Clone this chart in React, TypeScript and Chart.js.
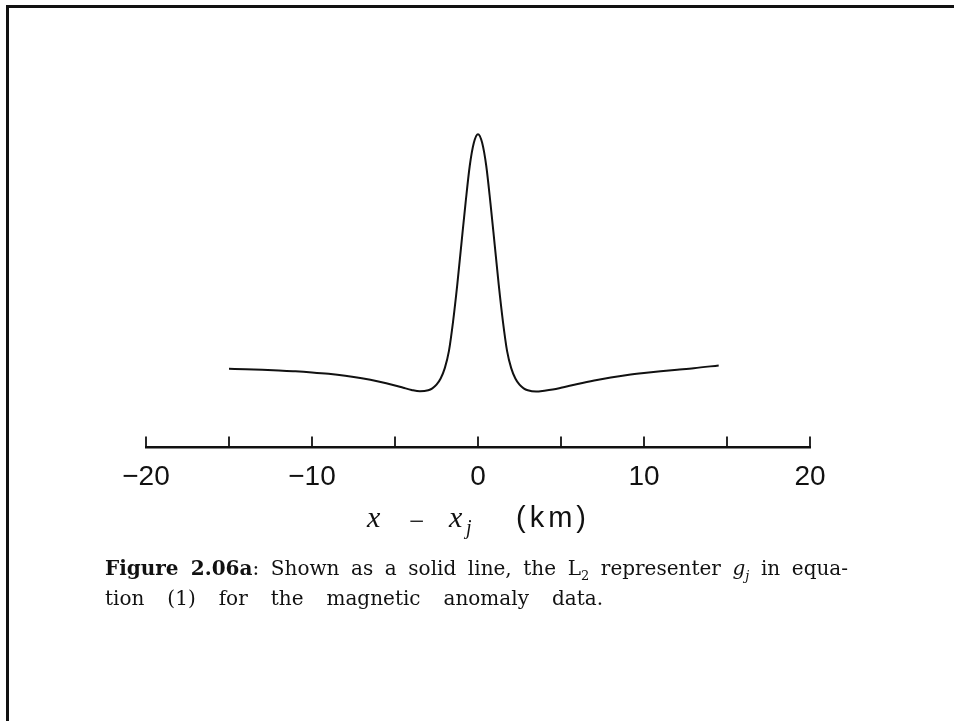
import React, { useEffect, useRef } from "react";
import { Chart, registerables } from "chart.js";

Chart.register(...registerables);

// Distance from the datum x - x_j (km)
const xKm: number[] = [
  -15, -14, -13, -12, -11, -10, -9, -8, -7, -6, -5, -4.5, -4, -3.5, -3, -2.75, -2.5, -2.25, -2, -1.75, -1.5, -1.25, -1, -0.75, -0.5, -0.25,
  0, 0.25, 0.5, 0.75, 1, 1.25, 1.5, 1.75, 2, 2.25, 2.5, 2.75, 3, 3.5, 4, 4.5, 5, 6, 7, 8, 9, 10, 11, 12, 13, 14.5,
];
// Representer g_j (arbitrary units, peak = 1)
const gValues: number[] = [
  0.0476, 0.0455, 0.0431, 0.0402, 0.037, 0.0325, 0.0268, 0.0191, 0.0089, -0.0041, -0.0203, -0.0297, -0.0386, -0.044, -0.04, -0.032, -0.017, 0.008, 0.05, 0.12, 0.24, 0.388, 0.555, 0.72, 0.87, 0.965,
  1.0, 0.965, 0.87, 0.72, 0.555, 0.388, 0.24, 0.12, 0.05, 0.008, -0.017, -0.032, -0.04, -0.045, -0.0415, -0.0366, -0.0297, -0.0142, 0.0, 0.0122, 0.0224, 0.0305, 0.0374, 0.0435, 0.0496, 0.061,
];
const xMin = -20;
const xMax = 20;
const tickStep = 5;
const labelStep = 10;

const upTicks = {
  id: "upTicks",
  afterDraw(chart: any) {
    const scale = chart.scales.x;
    const ctx = chart.ctx;
    const bottom = chart.chartArea.bottom;
    ctx.save();
    ctx.strokeStyle = "#111";
    ctx.lineWidth = 1.8;
    scale.ticks.forEach((t: any) => {
      const px = scale.getPixelForValue(t.value);
      ctx.beginPath();
      ctx.moveTo(px, bottom);
      ctx.lineTo(px, bottom - 11);
      ctx.stroke();
    });
    ctx.restore();
  },
};

export default function App() {
  const ref = useRef<HTMLCanvasElement>(null);
  useEffect(() => {
    if (!ref.current) return;
    const chart = new Chart(ref.current, {
      type: "line",
      data: {
        datasets: [
          {
            data: xKm.map((x, i) => ({ x, y: gValues[i] })),
            borderColor: "#111",
            borderWidth: 2,
            pointRadius: 0,
            cubicInterpolationMode: "monotone",
            fill: false,
          },
        ],
      },
      options: {
        responsive: false,
        animation: false,
        devicePixelRatio: 1,
        layout: { padding: { left: 146, right: 144, top: 85, bottom: 13 } },
        plugins: { legend: { display: false }, tooltip: { enabled: false } },
        scales: {
          x: {
            type: "linear",
            min: xMin,
            max: xMax,
            grid: { display: false, drawTicks: false },
            border: { display: true, color: "#111", width: 2.5 },
            ticks: {
              stepSize: tickStep,
              autoSkip: false,
              maxRotation: 0,
              padding: 13,
              color: "#111",
              font: { family: "'Liberation Sans', Arial, sans-serif", size: 28 },
              callback: (v: any) => {
                const n = Number(v);
                if (n % labelStep !== 0) return "";
                return n < 0 ? "\u2212" + Math.abs(n) : String(n);
              },
            },
          },
          y: { display: false, min: -0.272, max: 1.2 },
        },
      },
      plugins: [upTicks],
    } as any);
    return () => chart.destroy();
  }, []);

  const serif = "'Liberation Serif', 'Times New Roman', serif";
  const capFont = "'DejaVu Serif', serif";
  return (
    <div style={{ position: "absolute", left: 0, top: 0, width: 954, height: 721, background: "#fff", overflow: "hidden" }}>
      <div style={{ position: "absolute", left: 6, top: 5, width: 980, height: 760, borderTop: "3px solid #111", borderLeft: "3px solid #111" }} />
      <canvas ref={ref} width={954} height={520} style={{ position: "absolute", left: 0, top: 0, width: 954, height: 520 }} />
      <div style={{ position: "absolute", left: 0, top: 0, width: 954, height: 721, color: "#111" }}>
        <span style={{ position: "absolute", left: 367, top: 502, fontFamily: serif, fontStyle: "italic", fontSize: 30, lineHeight: 1 }}>x</span>
        <span style={{ position: "absolute", left: 409, top: 508, fontFamily: serif, fontSize: 27, lineHeight: 1 }}>{"\u2212"}</span>
        <span style={{ position: "absolute", left: 449, top: 502, fontFamily: serif, fontStyle: "italic", fontSize: 30, lineHeight: 1 }}>x</span>
        <span style={{ position: "absolute", left: 466, top: 517, fontFamily: serif, fontStyle: "italic", fontSize: 20, lineHeight: 1 }}>j</span>
        <span style={{ position: "absolute", left: 516, top: 503, fontFamily: "'Liberation Sans', Arial, sans-serif", fontSize: 29, lineHeight: 1, letterSpacing: 4 }}>(km)</span>
        <div style={{ position: "absolute", left: 105, top: 553, fontFamily: capFont, fontSize: 20, lineHeight: "30px", color: "#111" }}>
          <div style={{ width: 743, textAlign: "justify", textAlignLast: "justify" as any }}>
            <b>Figure 2.06a</b>: Shown as a solid line, the L<sub style={{ fontSize: 13, lineHeight: 0 }}>2</sub> representer <i>g</i>
            <sub style={{ fontSize: 13, lineHeight: 0 }}><i>j</i></sub> in equa-
          </div>
          <div style={{ width: 498, textAlign: "justify", textAlignLast: "justify" as any }}>
            tion (1) for the magnetic anomaly data.
          </div>
        </div>
      </div>
    </div>
  );
}
